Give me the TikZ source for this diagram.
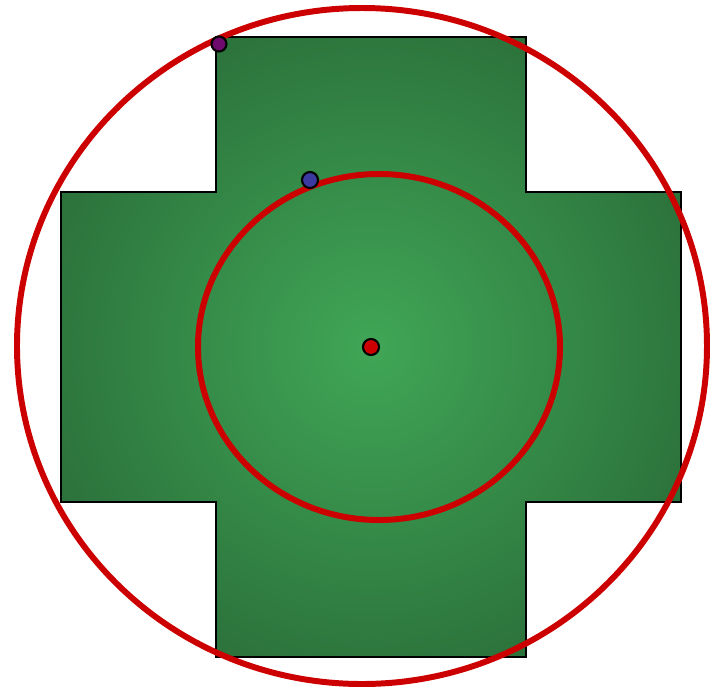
\documentclass[tikz,border=0pt]{standalone}
\usetikzlibrary{shadings}
\definecolor{crossin}{RGB}{64,166,86}
\definecolor{crossout}{RGB}{38,100,52}
\definecolor{ringred}{RGB}{204,0,0}
\definecolor{dotpurple}{RGB}{110,10,110}
\definecolor{dotblue}{RGB}{58,58,160}
\pgfdeclareradialshading{crossglow}{\pgfpoint{0bp}{0bp}}{color(0bp)=(crossin); color(35bp)=(crossout); color(50bp)=(crossout)}
\begin{document}
\begin{tikzpicture}[
    dot/.style={draw=black, line width=0.6pt, circle, inner sep=0pt, minimum size=0.16cm},
    ring/.style={draw=ringred, line width=1.7pt}
  ]
                \useasboundingbox (-3.71,-3.48) rectangle (3.39,3.47);

                % Draw the cross
                \shade[shading=crossglow, draw=black, line width=0.5pt]
                  (-1.55,3.1) -- (1.55,3.1) -- (1.55,1.55) -- (3.1,1.55)
                  -- (3.1,-1.55) -- (1.55,-1.55) -- (1.55,-3.1) -- (-1.55,-3.1)
                  -- (-1.55,-1.55) -- (-3.1,-1.55) -- (-3.1,1.55) -- (-1.55,1.55) -- cycle;

                % Draw the outer and inner rings
                \draw[ring] (-0.09,0.01) ellipse [x radius=3.45, y radius=3.38];
                \draw[ring] (0.08,0) ellipse [x radius=1.81, y radius=1.73];

                % Draw the points
                \node[dot, fill=ringred] (centre) at (0,0) {};
                \node[dot, fill=dotblue] (inpt) at (-0.61,1.67) {};
                \node[dot, fill=dotpurple, minimum size=0.15cm] (outpt) at (-1.52,3.03) {};

\end{tikzpicture}
\end{document}
